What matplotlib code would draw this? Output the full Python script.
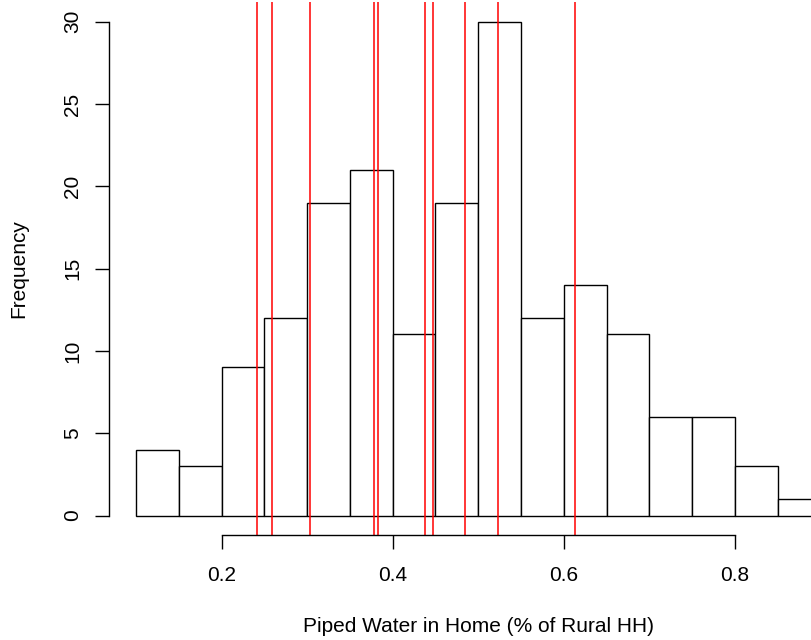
import numpy as np
import matplotlib
matplotlib.use('Agg')
import matplotlib.pyplot as plt

# histogram of rural piped-water share, bins of width 0.05
bin_edges = [0.10, 0.15, 0.20, 0.25, 0.30, 0.35, 0.40, 0.45, 0.50,
             0.55, 0.60, 0.65, 0.70, 0.75, 0.80, 0.85, 0.90]
counts = [4, 3, 9, 12, 19, 21, 11, 19, 30, 12, 14, 11, 6, 6, 3, 1]

# reference values marked with vertical lines
marks = [0.2411, 0.2593, 0.3030, 0.3786, 0.3829, 0.4377, 0.4468,
         0.4842, 0.5231, 0.6135]

x_ticks = [0.2, 0.4, 0.6, 0.8]
x_ticklabels = ['0.2', '0.4', '0.6', '0.8']
y_ticks = [0, 5, 10, 15, 20, 25, 30]

plt.rcParams['font.family'] = ['Liberation Sans', 'DejaVu Sans']

W, H = 811, 640
fig = plt.figure(figsize=(W / 100, H / 100), dpi=100)
# plot region runs a little past the right edge of the canvas
left, right, top, bottom = 108.6, 847.8, 1.9, 535.3
ax = fig.add_axes([left / W, 1 - bottom / H, (right - left) / W,
                   (bottom - top) / H])

edges = np.array(bin_edges)
ax.bar(edges[:-1], counts, width=np.diff(edges), align='edge',
       facecolor='white', edgecolor='black', linewidth=1.0)
for m in marks:
    ax.axvline(m, color='red', linewidth=1.1)

# R-style padding of 4% on both axes
xr = edges[-1] - edges[0]
ax.set_xlim(edges[0] - 0.04 * xr, edges[-1] + 0.04 * xr)
ax.set_ylim(-0.04 * 30, 30 * 1.04)

for s in ['top', 'right']:
    ax.spines[s].set_visible(False)
ax.spines['bottom'].set_bounds(x_ticks[0], x_ticks[-1])
ax.spines['left'].set_bounds(y_ticks[0], y_ticks[-1])
for s in ['bottom', 'left']:
    ax.spines[s].set_linewidth(1.0)

ax.set_xticks(x_ticks)
ax.set_xticklabels(x_ticklabels)
ax.set_yticks(y_ticks)
ax.set_yticklabels([str(v) for v in y_ticks], rotation=90, va='center')
ax.tick_params(axis='both', length=10, width=1.0, labelsize=15)
ax.tick_params(axis='x', pad=12)
ax.tick_params(axis='y', pad=9)

fig.text((left + right) / 2 / W, 1 - 626 / H,
         'Piped Water in Home (% of Rural HH)',
         ha='center', va='center', fontsize=15)
fig.text(19 / W, 1 - (top + bottom) / 2 / H, 'Frequency',
         ha='center', va='center', rotation=90, fontsize=15)

fig.savefig('out.png', dpi=100)
